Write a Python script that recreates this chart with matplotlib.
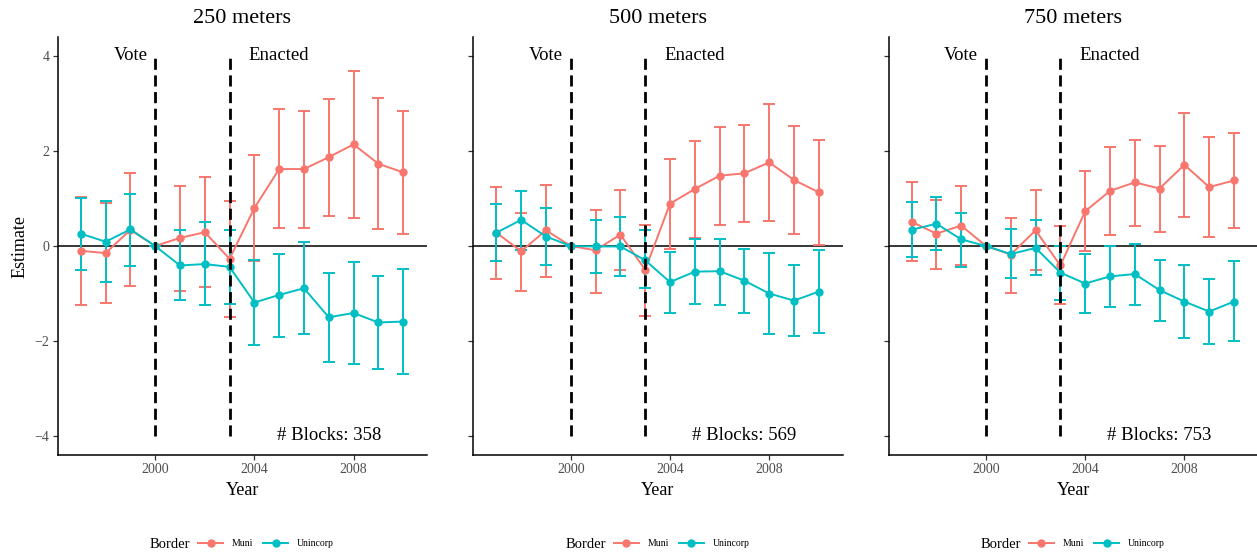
import matplotlib
matplotlib.use("Agg")
import matplotlib.pyplot as plt
from matplotlib.lines import Line2D

plt.rcParams['font.family'] = ['Liberation Serif', 'DejaVu Serif']
plt.rcParams['axes.unicode_minus'] = True

MUNI = '#F8766D'
UNIN = '#00BFC4'

years = list(range(1997, 2011))
titles = ['250 meters', '500 meters', '750 meters']
blocks = [358, 569, 753]

# 250 meters
muni_250 = [-0.10, -0.15, 0.34, 0.0, 0.17, 0.29, -0.27, 0.80, 1.62, 1.62, 1.87, 2.14, 1.73, 1.55]
muni_250_lo = [-1.24, -1.20, -0.84, 0.0, -0.94, -0.87, -1.49, -0.31, 0.37, 0.37, 0.64, 0.59, 0.35, 0.26]
muni_250_hi = [1.03, 0.90, 1.54, 0.0, 1.27, 1.46, 0.94, 1.92, 2.88, 2.85, 3.10, 3.69, 3.12, 2.85]
unin_250 = [0.26, 0.09, 0.35, 0.0, -0.41, -0.38, -0.44, -1.19, -1.03, -0.89, -1.50, -1.41, -1.61, -1.59]
unin_250_lo = [-0.50, -0.76, -0.43, 0.0, -1.13, -1.24, -1.22, -2.08, -1.91, -1.85, -2.45, -2.48, -2.59, -2.70]
unin_250_hi = [1.01, 0.94, 1.10, 0.0, 0.33, 0.50, 0.33, -0.30, -0.17, 0.08, -0.57, -0.33, -0.64, -0.48]

# 500 meters
muni_500 = [0.28, -0.11, 0.33, 0.0, -0.09, 0.24, -0.50, 0.89, 1.20, 1.48, 1.53, 1.76, 1.39, 1.13]
muni_500_lo = [-0.69, -0.94, -0.65, 0.0, -0.99, -0.51, -1.47, -0.07, 0.17, 0.44, 0.50, 0.52, 0.26, 0.03]
muni_500_hi = [1.24, 0.69, 1.29, 0.0, 0.75, 1.17, 0.45, 1.83, 2.22, 2.50, 2.55, 2.99, 2.52, 2.24]
unin_500 = [0.28, 0.55, 0.20, 0.0, -0.01, -0.01, -0.30, -0.76, -0.54, -0.53, -0.73, -1.00, -1.15, -0.96]
unin_500_lo = [-0.31, -0.08, -0.41, 0.0, -0.57, -0.64, -0.89, -1.40, -1.22, -1.24, -1.42, -1.85, -1.89, -1.84]
unin_500_hi = [0.89, 1.15, 0.79, 0.0, 0.54, 0.61, 0.33, -0.13, 0.15, 0.15, -0.07, -0.15, -0.40, -0.08]

# 750 meters
muni_750 = [0.51, 0.26, 0.43, 0.0, -0.18, 0.33, -0.41, 0.73, 1.16, 1.34, 1.21, 1.71, 1.24, 1.38]
muni_750_lo = [-0.32, -0.48, -0.41, 0.0, -0.99, -0.51, -1.23, -0.10, 0.24, 0.43, 0.30, 0.62, 0.18, 0.38]
muni_750_hi = [1.34, 0.97, 1.27, 0.0, 0.59, 1.17, 0.43, 1.57, 2.09, 2.24, 2.10, 2.81, 2.29, 2.37]
unin_750 = [0.34, 0.47, 0.14, 0.0, -0.17, -0.04, -0.56, -0.79, -0.64, -0.59, -0.93, -1.17, -1.38, -1.17]
unin_750_lo = [-0.24, -0.08, -0.44, 0.0, -0.68, -0.60, -1.13, -1.41, -1.29, -1.24, -1.58, -1.94, -2.06, -2.01]
unin_750_hi = [0.92, 1.03, 0.70, 0.0, 0.35, 0.54, 0.01, -0.16, 0.01, 0.04, -0.29, -0.41, -0.69, -0.31]

panels = [
    (muni_250, muni_250_lo, muni_250_hi, unin_250, unin_250_lo, unin_250_hi),
    (muni_500, muni_500_lo, muni_500_hi, unin_500, unin_500_lo, unin_500_hi),
    (muni_750, muni_750_lo, muni_750_hi, unin_750, unin_750_lo, unin_750_hi),
]

W, H = 1257, 554
fig = plt.figure(figsize=(W / 100, H / 100), dpi=100)

lefts = [57.7, 473.3, 888.5]
ax_w = 369.3
ax_top, ax_bot = 37, 455

for i, (m, mlo, mhi, u, ulo, uhi) in enumerate(panels):
    ax = fig.add_axes([lefts[i] / W, 1 - ax_bot / H, ax_w / W, (ax_bot - ax_top) / H])

    ax.axhline(0, color='black', lw=1.1, zorder=1)

    for est, lo, hi, col in [(m, mlo, mhi, MUNI), (u, ulo, uhi, UNIN)]:
        err = [[e - l for e, l in zip(est, lo)], [h - e for e, h in zip(est, hi)]]
        ax.errorbar(years, est, yerr=err, color=col, lw=1.4, elinewidth=1.4,
                    capsize=4.6, capthick=1.4, marker='o', markersize=5.0, zorder=3)

    ax.vlines([2000, 2003], -4, 4, colors='black', linestyles=(0, (4, 2)),
              lw=2.0, zorder=4)

    ax.text(1999, 4, 'Vote', ha='center', va='center', fontsize=13.5)
    ax.text(2005, 4, 'Enacted', ha='center', va='center', fontsize=13.5)
    ax.text(2007, -4, f'# Blocks: {blocks[i]}', ha='center', va='center', fontsize=13.5)

    ax.set_xlim(1996.07, 2010.96)
    ax.set_ylim(-4.4, 4.4)
    ax.set_xticks([2000, 2004, 2008])
    ax.set_yticks([-4, -2, 0, 2, 4])
    ax.spines['top'].set_visible(False)
    ax.spines['right'].set_visible(False)
    ax.spines['left'].set_linewidth(1.1)
    ax.spines['bottom'].set_linewidth(1.1)
    ax.tick_params(axis='both', length=3.5, width=0.9, color='#333333',
                   labelcolor='#4D4D4D', labelsize=10, pad=2.5)
    if i > 0:
        ax.set_yticklabels([])
    else:
        ax.set_ylabel('Estimate', fontsize=13, labelpad=4)
    ax.set_xlabel('Year', fontsize=13, labelpad=4)
    ax.set_title(titles[i], fontsize=16, pad=10)

    # legend below each panel
    off = lefts[i] - lefts[0]
    fig.text((150 + off) / W, 1 - 544 / H, 'Border', fontsize=10.5, ha='left', va='center')
    handles = [Line2D([], [], color=MUNI, lw=1.4, marker='o', markersize=5.0),
               Line2D([], [], color=UNIN, lw=1.4, marker='o', markersize=5.0)]
    fig.legend(handles, ['Muni', 'Unincorp'], loc='center', ncol=2, frameon=False,
               bbox_to_anchor=((266 + off) / W, 1 - 544 / H), fontsize=7,
               handlelength=2.6, handletextpad=0.9, columnspacing=1.0,
               borderpad=0, borderaxespad=0)

fig.savefig('out.png', dpi=100)
